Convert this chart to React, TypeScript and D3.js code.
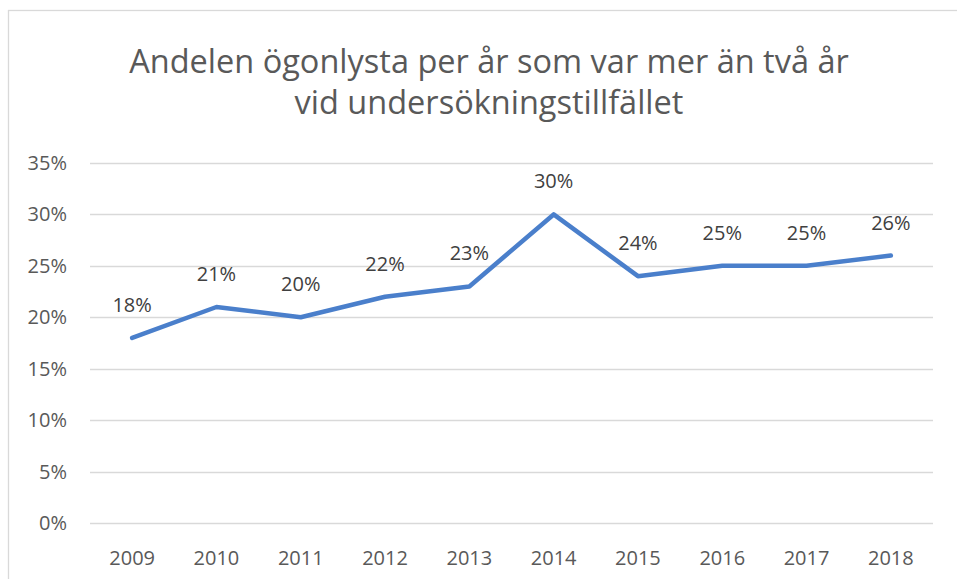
import { useRef, useEffect } from "react";
import * as d3 from "d3";

// andel ögonlysta per år (procent)
const years = ["2009", "2010", "2011", "2012", "2013", "2014", "2015", "2016", "2017", "2018"];
const shares = [18, 21, 20, 22, 23, 30, 24, 25, 25, 26];
const yTicks = [0, 5, 10, 15, 20, 25, 30, 35];
const titleLines = [
  "Andelen ögonlysta per år som var mer än två år",
  "vid undersökningstillfället",
];

const width = 957;
const height = 579;
const margin = { top: 163, right: 24, bottom: 56, left: 90 };
const font = "'Open Sans', sans-serif";

const App = () => {
  const svgRef = useRef<SVGSVGElement>(null);

  useEffect(() => {
    const svg = d3.select(svgRef.current);
    svg.selectAll("*").remove();

    // chart frame, runs off the right and bottom edges
    svg
      .append("rect")
      .attr("x", 8.5)
      .attr("y", 10.5)
      .attr("width", 1000)
      .attr("height", 1000)
      .attr("fill", "#fff")
      .attr("stroke", "#d9d9d9")
      .attr("stroke-width", 1.3);

    const x = d3
      .scaleBand()
      .domain(years)
      .range([margin.left, width - margin.right]);

    const y = d3
      .scaleLinear()
      .domain([0, 35])
      .range([height - margin.bottom, margin.top]);

    // title
    svg
      .append("text")
      .attr("text-anchor", "middle")
      .attr("font-family", font)
      .attr("font-size", 32.5)
      .attr("fill", "#595959")
      .selectAll("tspan")
      .data(titleLines)
      .enter()
      .append("tspan")
      .attr("x", 489)
      .attr("y", (d, i) => 73 + i * 41)
      .text((d) => d);

    // gridlines
    svg
      .append("g")
      .selectAll("line")
      .data(yTicks)
      .enter()
      .append("line")
      .attr("x1", margin.left)
      .attr("x2", width - margin.right)
      .attr("y1", (d) => Math.round(y(d)) + 0.5)
      .attr("y2", (d) => Math.round(y(d)) + 0.5)
      .attr("stroke", "#d9d9d9")
      .attr("stroke-width", 1.3);

    // y axis labels
    svg
      .append("g")
      .selectAll("text")
      .data(yTicks)
      .enter()
      .append("text")
      .attr("x", 67)
      .attr("y", (d) => y(d))
      .attr("dy", "0.35em")
      .attr("text-anchor", "end")
      .attr("font-family", font)
      .attr("font-size", 20)
      .attr("fill", "#595959")
      .text((d) => `${d}%`);

    // x axis labels
    svg
      .append("g")
      .selectAll("text")
      .data(years)
      .enter()
      .append("text")
      .attr("x", (d) => x(d)! + x.bandwidth() / 2)
      .attr("y", 565)
      .attr("text-anchor", "middle")
      .attr("font-family", font)
      .attr("font-size", 20)
      .attr("fill", "#595959")
      .text((d) => d);

    const points = years.map((yr, i) => ({ yr, v: shares[i] }));

    const line = d3
      .line<{ yr: string; v: number }>()
      .x((d) => x(d.yr)! + x.bandwidth() / 2)
      .y((d) => y(d.v));

    svg
      .append("path")
      .datum(points)
      .attr("d", line)
      .attr("fill", "none")
      .attr("stroke", "#4a7fcb")
      .attr("stroke-width", 4.5)
      .attr("stroke-linecap", "round")
      .attr("stroke-linejoin", "round");

    // data labels
    svg
      .append("g")
      .selectAll("text")
      .data(points)
      .enter()
      .append("text")
      .attr("x", (d) => x(d.yr)! + x.bandwidth() / 2)
      .attr("y", (d) => y(d.v) - 26)
      .attr("text-anchor", "middle")
      .attr("font-family", font)
      .attr("font-size", 20)
      .attr("fill", "#404040")
      .text((d) => `${d.v}%`);
  }, []);

  return (
    <svg
      ref={svgRef}
      width={width}
      height={height}
      style={{ position: "absolute", left: 0, top: 0, background: "#fff" }}
    ></svg>
  );
};

export default App;
